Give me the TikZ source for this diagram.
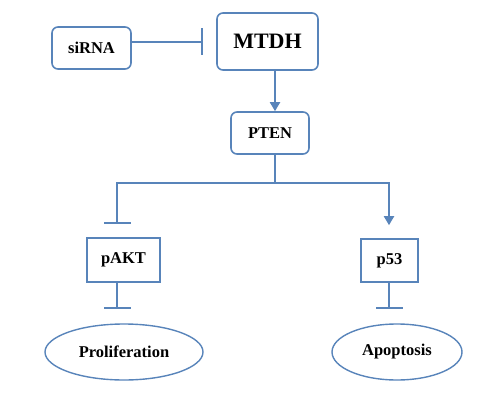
\documentclass[tikz,border=0pt]{standalone}
\usepackage{fontspec}
\setmainfont{Liberation Serif}
\usetikzlibrary{arrows.meta,shapes.geometric}
\definecolor{pathblue}{RGB}{88,132,186}
\tikzset{
	gene/.style={draw=pathblue,line width=1.6pt,rounded corners=6pt,fill=white,font=\bfseries\fontsize{16.5}{18}\selectfont,inner sep=0pt},
	prot/.style={draw=pathblue,line width=1.6pt,fill=white,font=\bfseries\fontsize{16.5}{18}\selectfont,inner sep=0pt},
	fate/.style={draw=pathblue,line width=1.4pt,ellipse,fill=white,font=\bfseries\fontsize{16.5}{18}\selectfont,inner sep=0pt},
	inh/.style={draw=pathblue,line width=1.9pt,-{Bar[width=27pt,line width=1.9pt]}},
	act/.style={draw=pathblue,line width=1.9pt,-{Triangle[width=10pt,length=9pt]}}
}
\begin{document}
\begin{tikzpicture}[x=1pt,y=-1pt]
	\useasboundingbox (0,0) rectangle (500,404);
	% upper part
	\node[gene,minimum width=79pt,minimum height=42pt] (sirna) at (91.5,48) {siRNA};
	\node[gene,minimum width=101pt,minimum height=57pt,font=\bfseries\fontsize{22}{24}\selectfont] (mtdh) at (267.5,41.5) {MTDH};
	\node[gene,minimum width=78pt,minimum height=42pt] (pten) at (270,133) {PTEN};
	\coordinate (block) at (203,42);
	\coordinate (split) at (275,183);
	\coordinate (lft) at (117,183);
	\coordinate (rgt) at (389,183);
	% targets and outcomes
	\node[prot,minimum width=73pt,minimum height=44pt] (pakt) at (123.5,260) {pAKT};
	\node[prot,minimum width=57pt,minimum height=43pt] (p53) at (389.5,260.5) {p53};
	\node[fate,minimum width=158pt,minimum height=56pt] (prolif) at (124,352) {Proliferation};
	\node[fate,minimum width=130pt,minimum height=56pt] (apop) at (397,352) {Apoptosis};
	% connectors
	\draw[inh] (sirna.east |- block) -- (block);
	\draw[act] (split |- mtdh.south) -- (split |- pten.north);
	\draw[inh,shorten >=13pt] (split |- pten.south) -- (split) -| (lft |- pakt.north);
	\draw[act,shorten >=13pt] (split) -| (rgt |- p53.north);
	\draw[inh,shorten >=14pt] (lft |- pakt.south) -- (lft |- prolif.north);
	\draw[inh,shorten >=14pt] (rgt |- p53.south) -- (rgt |- apop.north);
\end{tikzpicture}
\end{document}
